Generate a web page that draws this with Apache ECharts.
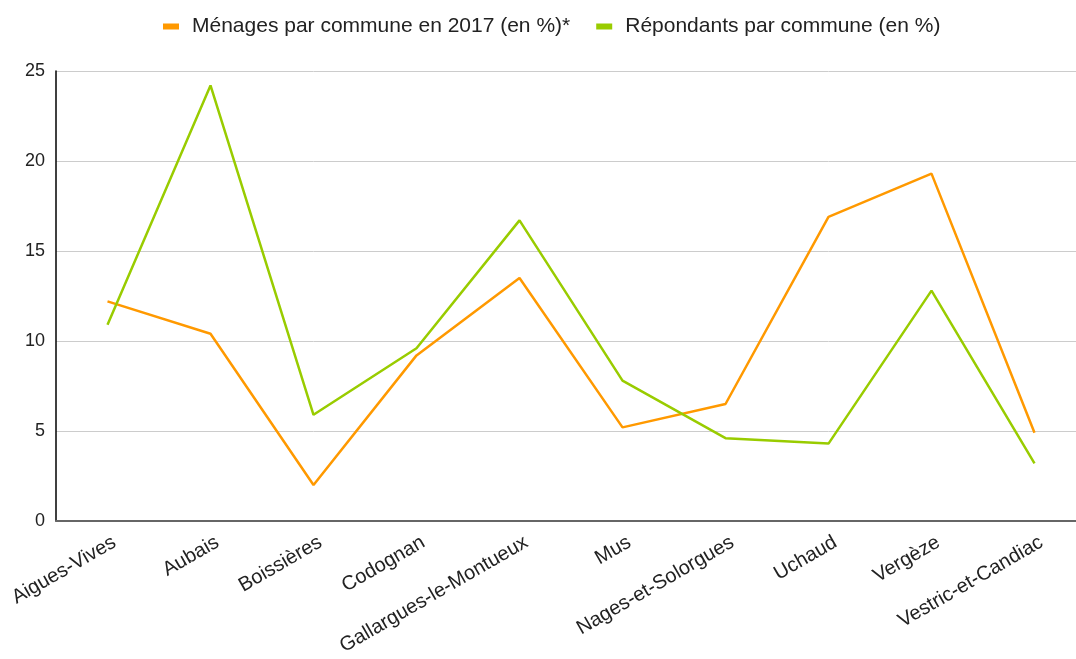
<!DOCTYPE html>
<html>
<head>
<meta charset="utf-8">
<script src="https://cdn.jsdelivr.net/npm/echarts@6/dist/echarts.min.js"></script>
<style>html,body{margin:0;padding:0;background:#fff;overflow:hidden;width:1076px;height:659px;}#c{width:1090px;height:659px;}</style>
</head>
<body>
<div id="c"></div>
<script>
const categories = ["Aigues-Vives","Aubais","Boissières","Codognan","Gallargues-le-Montueux","Mus","Nages-et-Solorgues","Uchaud","Vergèze","Vestric-et-Candiac"];
const menages = [12.2, 10.4, 2.0, 9.2, 13.5, 5.2, 6.5, 16.9, 19.3, 4.9];
const repondants = [10.9, 24.2, 5.9, 9.6, 16.7, 7.8, 4.6, 4.3, 12.8, 3.2];
const seriesNames = ["Ménages par commune en 2017 (en %)*", "Répondants par commune (en %)"];
const yTicks = {min: 0, max: 25, interval: 5};

const chart = echarts.init(document.getElementById('c'), null, {renderer: 'canvas'});
const font = 'Liberation Sans, Arial, sans-serif';
chart.setOption({
  animation: false,
  color: ['#ff9900', '#99cc00'],
  legend: {
    top: 11, left: 158,
    itemWidth: 16, itemHeight: 6, itemGap: 26,
    icon: 'rect',
    textStyle: {fontFamily: font, fontSize: 21, color: '#222', padding: [0,0,0,8]},
    data: seriesNames
  },
  grid: {left: 56, right: 4, top: 71, height: 450, containLabel: false},
  xAxis: {
    type: 'category',
    data: categories,
    boundaryGap: true,
    axisLine: {lineStyle: {color: '#666', width: 2}},
    axisTick: {show: false},
    axisLabel: {rotate: 30, fontFamily: font, fontSize: 20, color: '#222', margin: 24, interval: 0, padding: [0, -8, 0, 0]}
  },
  yAxis: {
    type: 'value',
    min: yTicks.min, max: yTicks.max, interval: yTicks.interval,
    axisLine: {show: true, lineStyle: {color: '#000', width: 1.5}},
    axisTick: {show: false},
    splitLine: {lineStyle: {color: '#ccc', width: 1}},
    axisLabel: {fontFamily: font, fontSize: 18, color: '#222', margin: 11}
  },
  series: [
    {name: seriesNames[0], type: 'line', data: menages, symbol: 'none', lineStyle: {width: 2.5}},
    {name: seriesNames[1], type: 'line', data: repondants, symbol: 'none', lineStyle: {width: 2.5}}
  ]
});
</script>
</body>
</html>
